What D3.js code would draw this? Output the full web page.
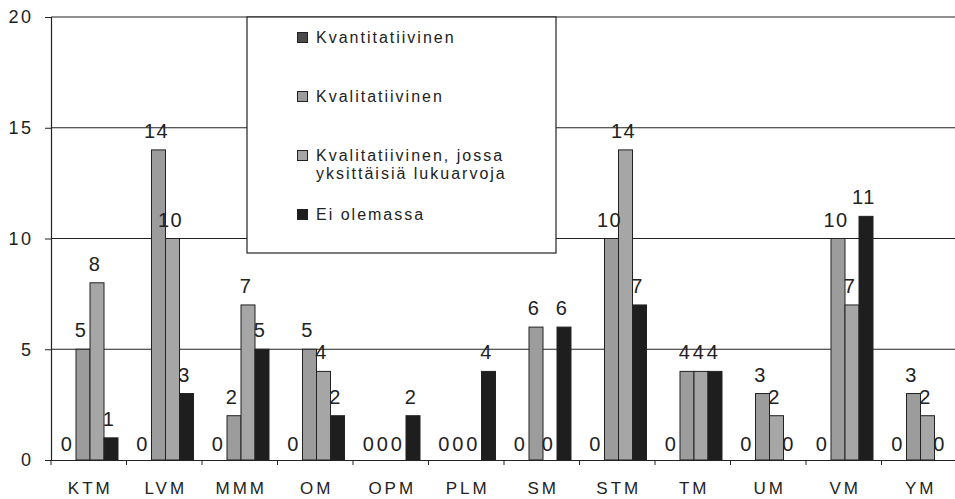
<!DOCTYPE html>
<html>
<head>
<meta charset="utf-8">
<script src="https://cdn.jsdelivr.net/npm/d3@7"></script>
<style>
  body { margin: 0; background: #fff; }
  svg text { font-family: "Liberation Sans", Arial, sans-serif; fill: #222; }
</style>
</head>
<body>
<svg id="chart" width="955" height="499"></svg>
<script>
var categories = ["KTM", "LVM", "MMM", "OM", "OPM", "PLM", "SM", "STM", "TM", "UM", "VM", "YM"];
var seriesNames = ["Kvantitatiivinen", "Kvalitatiivinen", "Kvalitatiivinen, jossa|yksittäisiä lukuarvoja", "Ei olemassa"];
var kvantitatiivinen = [0, 0, 0, 0, 0, 0, 0, 0, 0, 0, 0, 0];
var kvalitatiivinen  = [5, 14, 2, 5, 0, 0, 6, 10, 4, 3, 10, 3];
var lukuarvoja       = [8, 10, 7, 4, 0, 0, 0, 14, 4, 2, 7, 2];
var eiOlemassa       = [1, 3, 5, 2, 2, 4, 6, 7, 4, 0, 11, 0];
var yTicks = [0, 5, 10, 15, 20];
var colors = ["#4a4a4a", "#9c9c9c", "#a6a6a6", "#1e1e1e"];

var series = [kvantitatiivinen, kvalitatiivinen, lukuarvoja, eiOlemassa];

var svg = d3.select("#chart");
var margin = {left: 51, top: 17, right: -2, bottom: 39};
var width = 955 - margin.left - margin.right;
var height = 499 - margin.top - margin.bottom;

var g = svg.append("g").attr("transform", "translate(" + margin.left + "," + margin.top + ")");

var x0 = d3.scaleBand().domain(categories).range([0, width]);
var x1 = d3.scaleBand().domain(d3.range(4)).range([11, x0.bandwidth() - 8.5]);
var y = d3.scaleLinear().domain([0, 20]).range([height, 0]);

// gridlines
g.selectAll(".grid").data(yTicks.slice(1)).enter().append("line")
	.attr("x1", 0).attr("x2", width)
	.attr("y1", function(d) { return y(d); })
	.attr("y2", function(d) { return y(d); })
	.attr("stroke", "#222").attr("stroke-width", 1.2);

// bars
var groups = g.selectAll(".grp").data(categories).enter().append("g")
	.attr("transform", function(d) { return "translate(" + x0(d) + ",0)"; });

groups.selectAll("rect").data(function(d, i) {
		return series.map(function(s, k) { return {k: k, v: s[i]}; });
	}).enter().append("rect")
	.attr("x", function(d) { return x1(d.k); })
	.attr("y", function(d) { return y(d.v); })
	.attr("width", x1.bandwidth())
	.attr("height", function(d) { return height - y(d.v); })
	.attr("fill", function(d) { return colors[d.k]; })
	.attr("stroke", "#222").attr("stroke-width", function(d) { return d.v > 0 ? 1 : 0; });

groups.selectAll(".lbl").data(function(d, i) {
		return series.map(function(s, k) { return {k: k, v: s[i]}; });
	}).enter().append("text")
	.attr("x", function(d) { return x1(d.k) + x1.bandwidth() / 2 - 2; })
	.attr("y", function(d) { return y(d.v) - (d.v > 0 ? 12 : 9); })
	.attr("text-anchor", "middle")
	.attr("font-size", 20)
	.style("letter-spacing", "1.5px")
	.text(function(d) { return d.v; });

// y axis
var yAxis = g.append("g").call(d3.axisLeft(y).tickValues(yTicks).tickSize(6).tickPadding(14));
yAxis.select(".domain").attr("stroke", "#222").attr("stroke-width", 1.2);
yAxis.selectAll("line").attr("stroke", "#222");
yAxis.selectAll("text").attr("font-size", 18).style("letter-spacing", "2.5px").attr("dx", 2.5);

// x axis
var xAxis = g.append("g").attr("transform", "translate(0," + height + ")")
	.call(d3.axisBottom(x0).tickSize(0).tickPadding(22));
xAxis.select(".domain").attr("stroke", "#222").attr("stroke-width", 1.2);
xAxis.selectAll("text").attr("font-size", 17).style("letter-spacing", "3px").attr("dx", 1.5);
g.selectAll(".xtick").data(categories).enter().append("line")
	.attr("x1", function(d) { return x0(d); }).attr("x2", function(d) { return x0(d); })
	.attr("y1", height).attr("y2", height + 5)
	.attr("stroke", "#222");

// legend
var legend = svg.append("g").attr("transform", "translate(247,17)");
legend.append("rect").attr("width", 309).attr("height", 236)
	.attr("fill", "#fff").attr("stroke", "#222").attr("stroke-width", 1.2);
var legendY = [26, 85, 144, 203];
seriesNames.forEach(function(name, k) {
	var row = legend.append("g").attr("transform", "translate(50," + legendY[k] + ")");
	row.append("rect").attr("x", 0.5).attr("y", -10.5).attr("width", 10).attr("height", 10)
		.attr("fill", colors[k]).attr("stroke", "#222");
	var t = row.append("text").attr("x", 19).attr("y", 0).attr("font-size", 16)
		.style("letter-spacing", "2px");
	name.split("|").forEach(function(part, j) {
		t.append("tspan").attr("x", 19).attr("dy", j == 0 ? 0 : 18).text(part);
	});
});
</script>
</body>
</html>
